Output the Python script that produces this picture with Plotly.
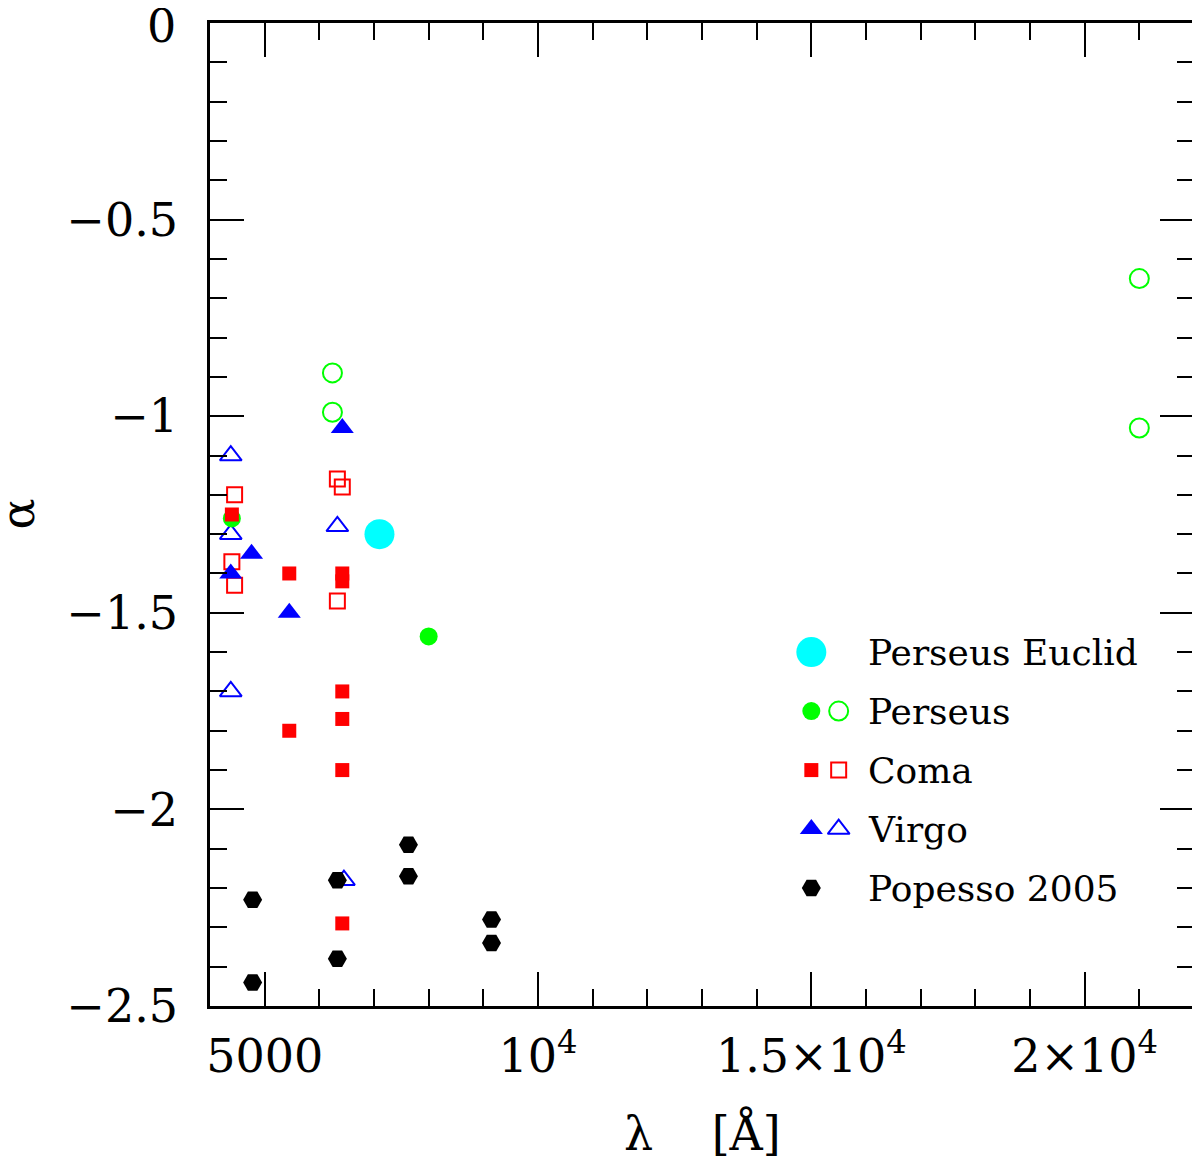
import plotly.graph_objects as go

# luminosity function slope alpha vs wavelength, several clusters

# Perseus Euclid
euclid_lam = [7100]
euclid_alpha = [-1.30]

# Perseus (filled / open)
perseus_lam = [4400, 8000]
perseus_alpha = [-1.26, -1.56]
perseus_open_lam = [6240, 6240, 21000, 21000]
perseus_open_alpha = [-0.89, -0.99, -0.65, -1.03]

# Coma (filled / open)
coma_lam = [4400, 5450, 6420, 6420, 5450, 6420, 6420, 6420, 6420]
coma_alpha = [-1.25, -1.40, -1.40, -1.42, -1.80, -1.70, -1.77, -1.90, -2.29]
coma_open_lam = [4450, 4400, 4450, 6330, 6420, 6330]
coma_open_alpha = [-1.20, -1.37, -1.43, -1.16, -1.18, -1.47]

# Virgo (filled / open)
virgo_lam = [6420, 4760, 4380, 5450]
virgo_alpha = [-1.03, -1.35, -1.40, -1.50]
virgo_open_lam = [4380, 4380, 6330, 4380, 6450]
virgo_open_alpha = [-1.10, -1.30, -1.28, -1.70, -2.18]

# Popesso 2005
popesso_lam = [4780, 4780, 6330, 6330, 7630, 7630, 9150, 9150]
popesso_alpha = [-2.23, -2.44, -2.18, -2.38, -2.09, -2.17, -2.28, -2.34]

# tick labels (the "0" at the very top is placed as an annotation so it isn't clipped)
x_tickvals = [5000, 10000, 15000, 20000]
x_ticktext = ["5000", "10<sup>4</sup>", "1.5×10<sup>4</sup>", "2×10<sup>4</sup>"]
y_tickvals = [0, -0.5, -1, -1.5, -2, -2.5]
y_ticktext = ["", "−0.5", "−1", "−1.5", "−2", "−2.5"]
y_top_label = "0"

# legend (drawn inside the plot, in data units like the original)
legend_labels = ["Perseus Euclid", "Perseus", "Coma", "Virgo", "Popesso 2005"]
legend_y = [-1.60, -1.75, -1.90, -2.05, -2.20]
legend_x_filled = 15000
legend_x_open = 15500
legend_x_text = 16000

FONT = "DejaVu Serif"
CYAN = "#00FFFF"
GREEN = "#00FF00"
RED = "#FF0000"
BLUE = "#0000FF"

styles = {
    "euclid": dict(symbol="circle", size=30, color=CYAN),
    "perseus": dict(symbol="circle", size=18, color=GREEN),
    "perseus_open": dict(symbol="circle-open", size=19, color=GREEN, line=dict(width=2, color=GREEN)),
    "coma": dict(symbol="square", size=14, color=RED),
    "coma_open": dict(symbol="square-open", size=15, color=RED, line=dict(width=2, color=RED)),
    "virgo": dict(symbol="triangle-up", size=20, color=BLUE),
    "virgo_open": dict(symbol="triangle-up-open", size=19, color=BLUE, line=dict(width=2, color=BLUE)),
    "popesso": dict(symbol="hexagon2", size=19, color="black"),
}


def pts(x, y, style):
    return go.Scatter(x=x, y=y, mode="markers", marker=styles[style],
                      showlegend=False, hoverinfo="skip")


fig = go.Figure()

fig.add_trace(pts(virgo_open_lam, virgo_open_alpha, "virgo_open"))
fig.add_trace(pts(perseus_lam, perseus_alpha, "perseus"))
fig.add_trace(pts(perseus_open_lam, perseus_open_alpha, "perseus_open"))
fig.add_trace(pts(coma_open_lam, coma_open_alpha, "coma_open"))
fig.add_trace(pts(coma_lam, coma_alpha, "coma"))
fig.add_trace(pts(virgo_lam, virgo_alpha, "virgo"))
fig.add_trace(pts(popesso_lam, popesso_alpha, "popesso"))
fig.add_trace(pts(euclid_lam, euclid_alpha, "euclid"))

# legend symbols
leg_filled = ["euclid", "perseus", "coma", "virgo", "popesso"]
leg_open = [None, "perseus_open", "coma_open", "virgo_open", None]
for i, st in enumerate(leg_filled):
    fig.add_trace(pts([legend_x_filled], [legend_y[i]], st))
    if leg_open[i]:
        fig.add_trace(pts([legend_x_open], [legend_y[i]], leg_open[i]))
    fig.add_annotation(x=legend_x_text, y=legend_y[i], text=legend_labels[i],
                       xref="x", yref="y", xanchor="left", yanchor="middle",
                       showarrow=False, font=dict(family=FONT, size=36, color="black"))

axis_common = dict(
    showgrid=False, zeroline=False, showline=True, linecolor="black", linewidth=2.5,
    mirror="ticks", ticks="inside", ticklen=34, tickwidth=2, tickcolor="black",
    tickfont=dict(family=FONT, size=46, color="black"), ticklabeloverflow="allow",
    automargin=False,
)

fig.update_xaxes(
    range=[4000, 22000], tickmode="array", tickvals=x_tickvals, ticktext=x_ticktext,
    minor=dict(dtick=1000, tick0=0, ticks="inside", ticklen=17, tickwidth=2, tickcolor="black"),
    ticklabelstandoff=8, **axis_common,
)
fig.update_yaxes(
    range=[-2.5, 0], tickmode="array", tickvals=y_tickvals, ticktext=y_ticktext,
    minor=dict(dtick=0.1, tick0=0, ticks="inside", ticklen=17, tickwidth=2, tickcolor="black"),
    ticklabelstandoff=20, **axis_common,
)

fig.add_annotation(x=0, y=y_tickvals[0], xref="paper", yref="y", xshift=-32, yshift=-3,
                   text=y_top_label, showarrow=False, xanchor="right", yanchor="middle",
                   font=dict(family=FONT, size=46, color="black"))

# axis titles
fig.add_annotation(x=0.5, y=0, xref="paper", yref="paper", yshift=-127,
                   text="λ    [Å]", showarrow=False, xanchor="center", yanchor="middle",
                   font=dict(family=FONT, size=46, color="black"))
fig.add_annotation(x=0, y=0.5, xref="paper", yref="paper", xshift=-193,
                   text="α", textangle=-90, showarrow=False, xanchor="center", yanchor="middle",
                   font=dict(family=FONT, size=46, color="black"))

# page body has an 8px margin, so the figure is a bit smaller and shifted
fig.update_layout(
    width=1192, height=1157,
    margin=dict(l=202, r=6, t=15, b=159),
    plot_bgcolor="white", paper_bgcolor="white",
    showlegend=False,
)

fig.write_html("out.html")
